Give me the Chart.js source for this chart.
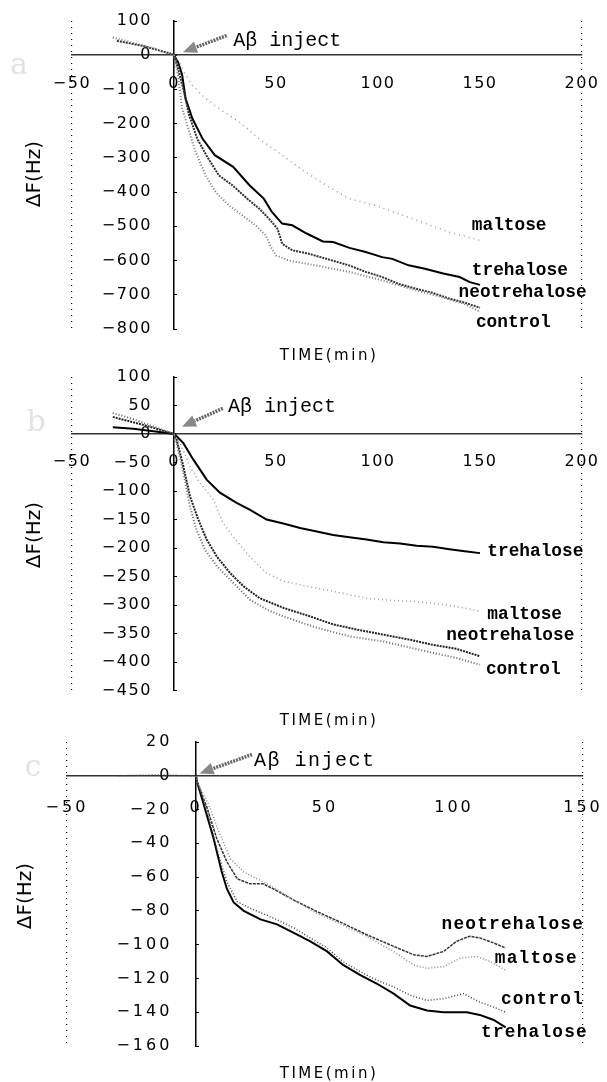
<!DOCTYPE html>
<html><head><meta charset="utf-8">
<script src="https://cdn.jsdelivr.net/npm/chart.js@4/dist/chart.umd.min.js"></script>
<style>
html,body{margin:0;padding:0;background:#fff;}
#wrap{position:relative;width:607px;height:1082px;overflow:hidden;background:#fff;}
canvas{position:absolute;left:0;}
.t{position:absolute;white-space:nowrap;color:#000;z-index:5;}
.time{font:15px "DejaVu Sans";letter-spacing:2.5px;transform:translate(-50%,-50%);}
.df{font:20px "DejaVu Sans";transform:translate(-50%,-50%) rotate(-90deg);}
.pl{font:30px "DejaVu Serif";color:#e2e2e2;transform:translate(-50%,-50%);}
</style></head>
<body><div id="wrap">
<canvas id="c1" width="607" height="345" style="top:0px"></canvas>
<canvas id="c2" width="607" height="345" style="top:360px"></canvas>
<canvas id="c3" width="607" height="345" style="top:720px"></canvas>
<div class="t pl" style="left:19px;top:63px">a</div>
<div class="t pl" style="left:36px;top:420px">b</div>
<div class="t pl" style="left:33px;top:765px">c</div>
<div class="t df" style="left:33px;top:174px">ΔF(Hz)</div>
<div class="t df" style="left:33px;top:535px">ΔF(Hz)</div>
<div class="t df" style="left:24px;top:896px">ΔF(Hz)</div>
<div class="t time" style="left:329px;top:355px">TIME(min)</div>
<div class="t time" style="left:329px;top:720px">TIME(min)</div>
<div class="t time" style="left:329px;top:1073px">TIME(min)</div>
</div>
<script>
// ---------- Panel a ----------
const A_TRE_T = [0, 2, 4, 5.7, 9, 14, 20, 29, 37, 44, 48, 53, 58, 65, 73, 78, 86, 94, 102, 107, 115, 123, 132, 140, 145, 150];
const A_TRE   = [0, -20, -58, -127, -185, -244, -292, -326, -380, -419, -458, -492, -497, -521, -544, -546, -563, -575, -590, -595, -614, -624, -638, -648, -663, -671];
const A_NEO_T = [-28, -15, -5, 0, 2, 4.9, 7.4, 11.4, 16.3, 22, 28.6, 36.8, 41.7, 46.6, 50.7, 52.3, 53, 58, 66, 77.6, 85.8, 94, 102, 110, 118.5, 126.6, 134.8, 143, 150];
const A_NEO   = [42, 27, 10, 2, -40, -107, -175, -244, -297, -351, -380, -424, -448, -478, -507, -536, -551, -570, -580, -600, -614, -633, -648, -668, -682, -694, -711, -724, -738];
const A_CON_T = [-30, -20, -10, 0, 2, 4, 6.5, 10.6, 15.5, 20.4, 27, 33.5, 40, 45, 47.4, 50, 56.4, 69.4, 85.8, 102, 118.5, 131.5, 143, 150];
const A_CON   = [52, 36, 20, 0, -60, -156, -205, -283, -351, -400, -439, -468, -497, -526, -560, -585, -600, -614, -633, -658, -687, -707, -728, -750];
const A_MAL_T = [0, 3, 5.7, 9, 14.7, 22, 31.9, 41.7, 53, 63, 76, 85.8, 98.9, 110, 123.4, 134.8, 150];
const A_MAL   = [0, -25, -58, -88, -122, -156, -195, -244, -292, -336, -385, -419, -439, -463, -492, -517, -541];
// ---------- Panel b ----------
const B_TRE_T = [-30, -20, -10, 0, 1.3, 4.6, 9.5, 16, 22.5, 30.7, 37.3, 45.4, 53.6, 61.8, 70, 78, 86, 94.4, 102.6, 110.8, 119, 127, 135, 143.5, 150];
const B_TRE   = [12, 9, 5, 0, -4, -16, -45, -80, -103, -121, -133, -150, -157, -165, -171, -177, -181, -185, -190, -192, -196, -198, -202, -206, -209];
const B_MAL_T = [0, 3, 7.8, 12.7, 19.3, 24, 29, 37, 45.4, 53.6, 65, 78, 86, 94.4, 102.6, 119, 132, 142, 150];
const B_MAL   = [0, -16, -57, -86, -115, -156, -180, -215, -244, -258, -267, -276, -282, -288, -291, -294, -299, -305, -311];
const B_NEO_T = [-30, -15, 0, 1.3, 4.6, 7.8, 11.9, 16, 21, 27.5, 34, 42, 53.6, 66.7, 78, 89.5, 102.6, 115.7, 127, 138.6, 150];
const B_NEO   = [30, 16, 0, -10, -57, -109, -150, -185, -215, -244, -267, -288, -305, -320, -334, -343, -352, -361, -370, -377, -390];
const B_CON_T = [-30, -20, -10, 0, 1.3, 4.6, 7.8, 11, 15.2, 21, 29, 37.3, 45.4, 53.6, 70, 86, 102.6, 112.4, 127, 138.6, 150];
const B_CON   = [37, 26, 13, 0, -16, -68, -127, -168, -203, -232, -261, -291, -308, -320, -340, -355, -364, -372, -384, -393, -405];
// ---------- Panel c ----------
const C_TRE_T = [0, 0.4, 3, 6.8, 10, 12, 14.6, 18.5, 25, 31.4, 37.9, 44.3, 50.8, 57, 63.7, 70, 76.6, 83, 89.5, 96, 105, 110, 115.4, 120];
const C_TRE   = [0, -3.6, -17, -37, -57, -67, -75, -80, -85, -88, -93, -98, -104, -112, -118, -123, -129, -136, -139, -140, -140, -141.6, -144.6, -149];
const C_CON_T = [-30, -15, 0, 0.4, 4.3, 8, 12, 16, 21, 28.8, 37.9, 44.3, 50.8, 57, 63.7, 70, 76.6, 83, 89.5, 96, 103.7, 110, 115.4, 120];
const C_CON   = [0, 0.5, 0, -3.6, -21, -43, -63, -74.5, -78.5, -83.4, -90, -96, -102, -110, -116, -121, -125, -130, -133, -132, -129, -134, -137, -140];
const C_NEO_T = [0, 0.4, 4.3, 8, 12, 16, 21, 26, 30, 37.9, 47, 57, 66, 76.6, 84.4, 89.5, 96, 101, 106, 110, 115.4, 120];
const C_NEO   = [0, -3.6, -19, -37, -51, -61, -64, -64, -67, -73.6, -80.5, -87.4, -94, -101, -106, -107, -104, -98, -95, -96, -99, -102];
const C_MAL_T = [0, 0.4, 4.9, 8.8, 13.3, 18.5, 25, 30, 37.9, 47, 57, 66, 76.6, 84.4, 89.5, 96, 102.5, 109, 114, 120];
const C_MAL   = [0, -3.6, -17, -33, -49, -57, -62, -66, -73.6, -81.5, -88.4, -95, -104, -112, -114, -113, -108, -107, -110, -115];

const SERIES_NAMES = ['trehalose', 'neotrehalose', 'control', 'maltose'];
const ANNOT_TEXT = 'Aβ inject';

function pts(t, v) { return t.map((x, i) => ({x: x, y: v[i]})); }
function fmt(v) { return v < 0 ? '\u2212' + Math.abs(v) : String(v); }

const annot = {
  id: 'annot',
  beforeDraw(chart, args, o) { chart.ctx.letterSpacing = o.tickSpacing; },
  afterDatasetsDraw(chart, args, o) {
    const ctx = chart.ctx, xs = chart.scales.x, ys = chart.scales.y;
    ctx.save();
    const x1 = xs.getPixelForValue(o.arrow[0]), y1 = ys.getPixelForValue(o.arrow[1]);
    const x2 = xs.getPixelForValue(o.arrow[2]), y2 = ys.getPixelForValue(o.arrow[3]);
    const ang = Math.atan2(y2 - y1, x2 - x1);
    const hl = 14, hw = 6;
    const bx = x2 - hl * Math.cos(ang), by = y2 - hl * Math.sin(ang);
    ctx.strokeStyle = '#666'; ctx.lineWidth = 3.5; ctx.setLineDash([2, 1]);
    ctx.beginPath(); ctx.moveTo(x1, y1); ctx.lineTo(bx, by); ctx.stroke();
    ctx.setLineDash([]);
    ctx.fillStyle = '#888';
    ctx.beginPath();
    ctx.moveTo(x2, y2);
    ctx.lineTo(bx + hw * Math.sin(ang), by - hw * Math.cos(ang));
    ctx.lineTo(bx - hw * Math.sin(ang), by + hw * Math.cos(ang));
    ctx.closePath(); ctx.fill();
    ctx.fillStyle = '#000';
    ctx.letterSpacing = o.textSpacing;
    ctx.font = o.textFont;
    ctx.textAlign = 'left'; ctx.textBaseline = 'middle';
    ctx.fillText(ANNOT_TEXT, xs.getPixelForValue(o.text[0]), ys.getPixelForValue(o.text[1]));
    ctx.font = o.labelFont;
    ctx.letterSpacing = o.labelSpacing;
    o.labels.forEach(l => {
      ctx.fillText(SERIES_NAMES[l[0]], xs.getPixelForValue(l[1]), ys.getPixelForValue(l[2]));
    });
    ctx.restore();
  },
  afterDraw(chart) { chart.ctx.letterSpacing = '0px'; }
};

function makeChart(id, cfg) {
  const ds = cfg.series.map(s => ({
    data: pts(s.t, s.v), borderColor: s.c, borderWidth: s.w, borderDash: s.d,
    pointRadius: 0, tension: 0, fill: false
  }));
  return new Chart(document.getElementById(id), {
    type: 'line',
    data: {datasets: ds},
    plugins: [annot],
    options: {
      responsive: false, animation: false,
      layout: {padding: cfg.pad},
      plugins: {legend: {display: false}, tooltip: {enabled: false}, annot: cfg.annot},
      scales: {
        x: {
          type: 'linear', min: cfg.xmin, max: cfg.xmax, position: {y: 0},
          ticks: {stepSize: 50, color: '#000', font: {family: 'DejaVu Sans', size: 16}, padding: 8, callback: fmt, maxRotation: 0, autoSkip: false},
          grid: {
            drawOnChartArea: true, drawTicks: true, tickLength: cfg.xtl, lineWidth: 1.2,
            color: c => (c.index === 0 || c.tick.value === cfg.xmax) ? '#000' : 'rgba(0,0,0,0)',
            tickColor: 'rgba(0,0,0,0)'
          },
          border: {display: true, color: '#333', width: 1.5, dash: [1, 5]}
        },
        y: {
          type: 'linear', min: cfg.ymin, max: cfg.ymax, position: {x: 0},
          ticks: {stepSize: cfg.ystep, color: '#000', font: {family: 'DejaVu Sans', size: 16}, callback: v => fmt(v) + cfg.ysuffix, autoSkip: false},
          grid: {drawOnChartArea: false, drawTicks: true, tickLength: -4, tickColor: '#000'},
          border: {display: true, color: '#000', width: 1.5}
        }
      }
    }
  });
}

makeChart('c1', {
  xmin: -50, xmax: 200, ymin: -800, ymax: 100, ystep: 100, ysuffix: '\u2003\u2009',
  pad: {left: 72, right: 25, top: 21, bottom: 16}, xtl: 11,
  series: [
    {t: A_MAL_T, v: A_MAL, c: '#9a9a9a', w: 1.5, d: [1, 4]},
    {t: A_CON_T, v: A_CON, c: '#777', w: 2, d: [1, 2]},
    {t: A_NEO_T, v: A_NEO, c: '#333', w: 2, d: [2, 1]},
    {t: A_TRE_T, v: A_TRE, c: '#000', w: 2, d: []}
  ],
  annot: {
    tickSpacing: '1.5px', textSpacing: '0px', labelSpacing: '0px',
    textFont: '20px "Liberation Mono"', labelFont: 'bold 17.8px "Liberation Mono"',
    arrow: [25.8, 57.6, 4.4, 8.8], text: [29, 43],
    labels: [[3, 146, -498], [0, 146, -629], [1, 139.5, -693], [2, 148, -781]]
  }
});

makeChart('c2', {
  xmin: -50, xmax: 200, ymin: -450, ymax: 100, ystep: 50, ysuffix: '\u2003\u2009',
  pad: {left: 72, right: 25, top: 17, bottom: 14.5}, xtl: 10,
  series: [
    {t: B_MAL_T, v: B_MAL, c: '#9a9a9a', w: 1.5, d: [1, 3]},
    {t: B_CON_T, v: B_CON, c: '#666', w: 2, d: [1, 2]},
    {t: B_NEO_T, v: B_NEO, c: '#222', w: 2, d: [2, 1]},
    {t: B_TRE_T, v: B_TRE, c: '#000', w: 2, d: []}
  ],
  annot: {
    tickSpacing: '1.5px', textSpacing: '0px', labelSpacing: '0px',
    textFont: '20px "Liberation Mono"', labelFont: 'bold 17.8px "Liberation Mono"',
    arrow: [23.9, 45, 3.9, 12.8], text: [26.5, 48],
    labels: [[0, 153.6, -206.5], [3, 153.6, -317.5], [1, 133.5, -354], [2, 152.9, -413.5]]
  }
});

makeChart('c3', {
  xmin: -50, xmax: 150, ymin: -160, ymax: 20, ystep: 20, ysuffix: '\u2003\u200A',
  pad: {left: 67, right: 24, top: 22, bottom: 19}, xtl: 14,
  series: [
    {t: C_MAL_T, v: C_MAL, c: '#8a8a8a', w: 1.5, d: [1, 2]},
    {t: C_CON_T, v: C_CON, c: '#444', w: 1.5, d: [1, 2]},
    {t: C_NEO_T, v: C_NEO, c: '#333', w: 1.5, d: [3, 1]},
    {t: C_TRE_T, v: C_TRE, c: '#000', w: 2, d: []}
  ],
  annot: {
    tickSpacing: '3px', textSpacing: '1.5px', labelSpacing: '1.2px',
    textFont: '20px "Liberation Mono"', labelFont: 'bold 17.8px "Liberation Mono"',
    arrow: [21.7, 12.6, 1.4, 1.4], text: [22.5, 8.8],
    labels: [[1, 95.2, -88.3], [3, 115.8, -108], [2, 118.2, -132.5], [0, 110.5, -152]]
  }
});
</script>
</body></html>
